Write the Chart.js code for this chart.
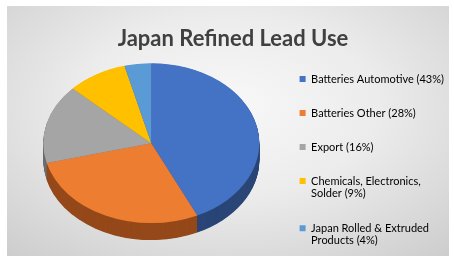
<!DOCTYPE html>
<html>
<head>
<meta charset="utf-8">
<script src="https://cdn.jsdelivr.net/npm/chart.js@4/dist/chart.umd.min.js"></script>
<style>
  html, body { margin: 0; padding: 0; background: #ffffff; }
  #wrap { position: relative; width: 454px; height: 260px; }
  #bg {
    position: absolute; left: 7px; top: 6px; width: 442px; height: 250px;
    background: radial-gradient(ellipse 75% 80% at 50% 40%, #f8f8f8 0%, #ececec 45%, #cdcdcd 100%);
  }
  #chart { position: absolute; left: 0; top: 0; }
</style>
</head>
<body>
<div id="wrap">
  <div id="bg"></div>
  <canvas id="chart" width="454" height="260"></canvas>
</div>
<script>
const categories = ['Batteries Automotive', 'Batteries Other', 'Export', 'Chemicals, Electronics, Solder', 'Japan Rolled & Extruded Products'];
const shares = [43, 28, 16, 9, 4];
const legendLines = [
  ['Batteries Automotive (43%)'],
  ['Batteries Other (28%)'],
  ['Export (16%)'],
  ['Chemicals, Electronics,', 'Solder (9%)'],
  ['Japan Rolled & Extruded', 'Products (4%)']
];
const topColors = ['#4472c4', '#ed7d31', '#a5a5a5', '#ffc000', '#5b9bd5'];
const sideColors = ['#2a4677', '#95491a', '#6e6e6e', '#a67d00', '#336899'];

const tilt = 0.74;   // vertical squish of the pie
const depth = 17;    // thickness of the pie in px
const shiftX = 7, shiftY = -14; // nudge the pie inside its area

// fake a 3D pie: squash the drawing and stack darker copies below
const pie3d = {
  id: 'pie3d',
  beforeDatasetsDraw(chart) {
    const ctx = chart.ctx;
    const arcs = chart.getDatasetMeta(0).data;
    const cx = arcs[0].x, cy = arcs[0].y;
    ctx.save();
    ctx.translate(cx + shiftX, cy + shiftY);
    ctx.scale(1, tilt);
    ctx.translate(-cx, -cy);
    for (let d = depth; d > 0; d -= 0.5) {
      arcs.forEach((arc, i) => {
        const y = arc.y + d / tilt;
        ctx.beginPath();
        ctx.moveTo(arc.x, y);
        ctx.arc(arc.x, y, arc.outerRadius, arc.startAngle, arc.endAngle);
        ctx.closePath();
        ctx.fillStyle = sideColors[i];
        ctx.fill();
      });
    }
  },
  afterDatasetsDraw(chart) {
    chart.ctx.restore();
  }
};

new Chart(document.getElementById('chart'), {
  type: 'pie',
  data: {
    labels: categories,
    datasets: [{
      data: shares,
      backgroundColor: topColors,
      borderWidth: 0
    }]
  },
  plugins: [pie3d],
  options: {
    responsive: false,
    animation: false,
    events: [],
    radius: 108,
    layout: { padding: { left: 12, right: 0, bottom: -10 } },
    plugins: {
      tooltip: { enabled: false },
      title: {
        display: true,
        text: 'Japan Refined Lead Use',
        color: '#404040',
        font: { family: 'Lato', size: 22, weight: 'bold' },
        padding: { top: 26, bottom: 2 }
      },
      legend: {
        position: 'right',
        align: 'end',
        labels: {
          color: '#595959',
          font: { family: 'Lato', size: 11, lineHeight: 1.1 },
          boxWidth: 6,
          boxHeight: 6,
          padding: 23,
          generateLabels: (chart) => legendLines.map((lines, i) => ({
            text: lines.length > 1 ? lines : lines[0],
            fillStyle: topColors[i],
            strokeStyle: topColors[i],
            lineWidth: 0,
            index: i
          }))
        }
      }
    }
  }
});
</script>
</body>
</html>
